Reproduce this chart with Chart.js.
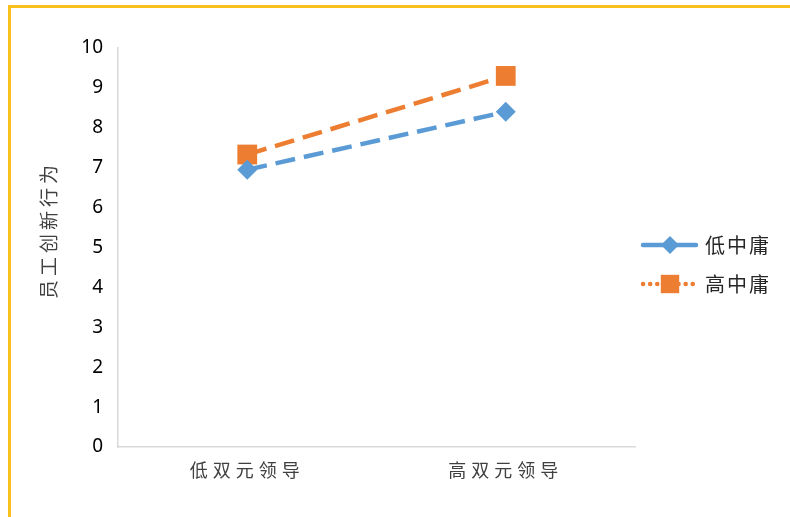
<!DOCTYPE html>
<html>
<head>
<meta charset="utf-8">
<script src="https://cdn.jsdelivr.net/npm/chart.js@4/dist/chart.umd.min.js"></script>
<style>
html,body{margin:0;padding:0;background:#fff;}
#wrap{position:relative;width:790px;height:517px;}
#frame{position:absolute;left:8px;top:5px;width:800px;height:600px;border-left:3px solid #FAC11C;border-top:3px solid #FAC11C;pointer-events:none;}
</style>
</head>
<body>
<div id="wrap">
<canvas id="c" width="790" height="517"></canvas>
<div id="frame"></div>
</div>
<script>
const categories = ['低双元领导', '高双元领导'];
const seriesNames = ['低中庸', '高中庸'];
const lowZY = [6.95, 8.4];
const highZY = [7.33, 9.3];
const yTicks = [0,1,2,3,4,5,6,7,8,9,10];
const yTitle = '员工创新行为';

const BLUE = '#5B9BD5';
const ORANGE = '#ED7D31';
const CJK = '"Noto Sans CJK SC", "Noto Sans", sans-serif';

const decor = {
  id: 'decor',
  beforeDraw(chart) {
    chart.ctx.letterSpacing = '0px';
  },
  afterDatasetsDraw(chart) {
    chart.ctx.letterSpacing = '5px';
  },
  afterDraw(chart) {
    const ctx = chart.ctx;
    ctx.save();
    ctx.letterSpacing = '4px';
    ctx.fillStyle = '#404040';
    ctx.font = '19px ' + CJK;
    ctx.translate(49, 230);
    ctx.rotate(-Math.PI / 2);
    ctx.textAlign = 'center';
    ctx.textBaseline = 'middle';
    ctx.fillText(yTitle, 0, 0);
    ctx.restore();

    ctx.save();
    ctx.letterSpacing = '2px';
    const items = [
      {name: seriesNames[0], color: BLUE, y: 245, dots: false, style: 'rectRot', r: 9},
      {name: seriesNames[1], color: ORANGE, y: 284, dots: true, style: 'rect', r: 13}
    ];
    items.forEach(it => {
      ctx.strokeStyle = it.color;
      ctx.lineWidth = 4.5;
      ctx.lineCap = 'round';
      ctx.setLineDash(it.dots ? [0.1, 7] : [22, 9]);
      ctx.beginPath();
      ctx.moveTo(643, it.y);
      ctx.lineTo(697, it.y);
      ctx.stroke();
      ctx.setLineDash([]);
      ctx.fillStyle = it.color;
      ctx.beginPath();
      if (it.style === 'rect') {
        const s = it.r * Math.SQRT1_2;
        ctx.rect(670 - s, it.y - s, 2 * s, 2 * s);
      } else {
        ctx.moveTo(670 - it.r, it.y);
        ctx.lineTo(670, it.y - it.r);
        ctx.lineTo(670 + it.r, it.y);
        ctx.lineTo(670, it.y + it.r);
        ctx.closePath();
      }
      ctx.fill();
      ctx.fillStyle = '#262626';
      ctx.font = '20px ' + CJK;
      ctx.textAlign = 'left';
      ctx.textBaseline = 'middle';
      ctx.fillText(it.name, 705, it.y);
    });
    ctx.restore();
    ctx.letterSpacing = '0px';
  }
};

new Chart(document.getElementById('c'), {
  type: 'line',
  data: {
    labels: categories,
    datasets: [
      {
        label: seriesNames[0],
        data: lowZY,
        borderColor: BLUE,
        backgroundColor: BLUE,
        borderWidth: 4.5,
        borderDash: [20, 9],
        pointStyle: 'rectRot',
        pointRadius: 10,
        pointBorderWidth: 0,
        pointBackgroundColor: BLUE,
        tension: 0
      },
      {
        label: seriesNames[1],
        data: highZY,
        borderColor: ORANGE,
        backgroundColor: ORANGE,
        borderWidth: 4.5,
        borderDash: [20, 9],
        pointStyle: 'rect',
        pointRadius: 14,
        pointBorderWidth: 0,
        pointBackgroundColor: ORANGE,
        tension: 0
      }
    ]
  },
  options: {
    responsive: false,
    animation: false,
    devicePixelRatio: 1,
    layout: {padding: {left: 0, top: 48, right: 155, bottom: 0}},
    plugins: {legend: {display: false}, tooltip: {enabled: false}},
    scales: {
      x: {
        offset: true,
        grid: {display: false, drawTicks: false},
        border: {display: true, color: '#D9D9D9', width: 1.5},
        ticks: {z: 1, color: '#404040', font: {family: CJK, size: 18}, padding: 12},
        afterFit(scale) { scale.height = 70; }
      },
      y: {
        min: 0, max: 10,
        afterBuildTicks(scale) { scale.ticks = yTicks.map(v => ({value: v})); },
        grid: {display: false, drawTicks: false},
        border: {display: true, color: '#D9D9D9', width: 1.5},
        ticks: {color: '#000', font: {family: '"Noto Sans", sans-serif', size: 19}, padding: 15},
        afterFit(scale) { scale.width = 118; }
      }
    }
  },
  plugins: [decor]
});
</script>
</body>
</html>
